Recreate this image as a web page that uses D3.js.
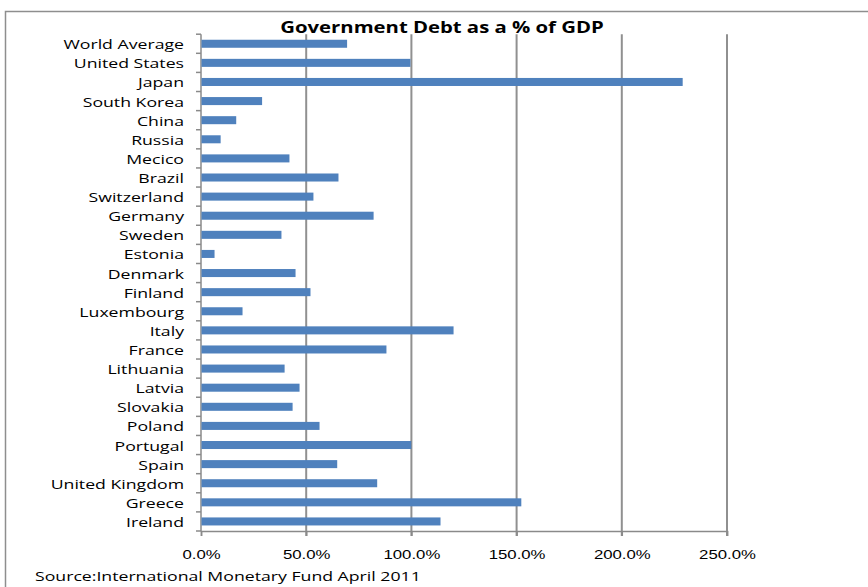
<!DOCTYPE html>
<html>
<head>
<meta charset="utf-8">
<script src="https://cdn.jsdelivr.net/npm/d3@7"></script>
<style>
    body { margin: 0; background: #fff; }
    svg { display: block; font-family: "Open Sans", sans-serif; }
    .catLabel { font-size: 13.5px; fill: #000; }
    .tickLabel { font-size: 12.8px; fill: #000; }
    .title { font-size: 15.5px; font-weight: bold; fill: #000; }
    .source { font-size: 13.5px; fill: #000; }
</style>
</head>
<body>
<svg id="chart"></svg>
<script>
const countries = ['World Average', 'United States', 'Japan', 'South Korea', 'China', 'Russia',
    'Mecico', 'Brazil', 'Switzerland', 'Germany', 'Sweden', 'Estonia', 'Denmark', 'Finland',
    'Luxembourg', 'Italy', 'France', 'Lithuania', 'Latvia', 'Slovakia', 'Poland', 'Portugal',
    'Spain', 'United Kingdom', 'Greece', 'Ireland'];
const debtPct = [69.2, 99.3, 228.7, 28.8, 16.5, 9.1,
    41.8, 65.1, 53.2, 81.8, 38.0, 6.2, 44.7, 51.8,
    19.5, 119.8, 87.9, 39.5, 46.6, 43.3, 56.1, 99.7,
    64.5, 83.5, 152.0, 113.6];
const xTicks = [0, 50, 100, 150, 200, 250];
const chartTitle = 'Government Debt as a % of GDP';
const sourceNote = 'Source:International Monetary Fund April 2011';

const width = 868, height = 587;
const margin = { top: 34.2, left: 201, right: 141, bottom: 56 };
const innerW = width - margin.left - margin.right;
const innerH = height - margin.top - margin.bottom;

// the original picture is stretched sideways, so text is widened the same way
const stretch = 1.31;
const place = (x, y) => `translate(${x},${y}) scale(${stretch},1)`;

const svg = d3.select('#chart')
    .attr('width', width)
    .attr('height', height);

// outer frame (only top and left edges show)
svg.append('path')
    .attr('d', `M5.5,${height + 2} V11.5 H${width + 2}`)
    .attr('fill', 'none')
    .attr('stroke', '#8e8e8e')
    .attr('stroke-width', 1.5);

const chart = svg.append('g')
    .attr('transform', `translate(${margin.left},${margin.top})`);

const xScale = d3.scaleLinear()
    .domain([0, 250])
    .range([0, innerW]);

const yScale = d3.scaleBand()
    .domain(countries)
    .range([0, innerH])
    .paddingInner(0.58)
    .paddingOuter(0.29);

// gridlines
chart.append('g')
    .selectAll('line')
    .data(xTicks.slice(1))
    .join('line')
    .attr('x1', d => xScale(d))
    .attr('x2', d => xScale(d))
    .attr('y1', 0)
    .attr('y2', innerH + 5)
    .attr('stroke', '#909090')
    .attr('stroke-width', 2);

// x axis
const xAxis = d3.axisBottom(xScale)
    .tickValues(xTicks)
    .tickSize(5)
    .tickFormat(d => d3.format('.1f')(d) + '%');

const xAxisG = chart.append('g')
    .attr('transform', `translate(0,${innerH})`)
    .call(xAxis);
xAxisG.select('.domain').attr('stroke', '#8a8a8a').attr('stroke-width', 1.5);
xAxisG.selectAll('.tick line').attr('stroke', '#8a8a8a').attr('stroke-width', 1.5);
xAxisG.selectAll('.tick text')
    .attr('class', 'tickLabel')
    .attr('font-family', null)
    .attr('font-size', null)
    .attr('y', 0)
    .attr('dy', null)
    .attr('transform', place(0, 28));

// y axis: ticks sit on category boundaries
const boundaries = d3.range(countries.length + 1).map(i => i * yScale.step());
chart.append('line')
    .attr('x1', 0).attr('x2', 0)
    .attr('y1', 0).attr('y2', innerH)
    .attr('stroke', '#8a8a8a')
    .attr('stroke-width', 1.5);
chart.append('g')
    .selectAll('line')
    .data(boundaries)
    .join('line')
    .attr('x1', -5).attr('x2', 0)
    .attr('y1', d => d).attr('y2', d => d)
    .attr('stroke', '#8a8a8a')
    .attr('stroke-width', 1.5);

chart.append('g')
    .selectAll('text')
    .data(countries)
    .join('text')
    .attr('class', 'catLabel')
    .attr('transform', d => place(-17, yScale(d) + yScale.bandwidth() / 2 + 5.5))
    .attr('text-anchor', 'end')
    .text(d => d);

// bars
chart.append('g')
    .selectAll('rect')
    .data(countries)
    .join('rect')
    .attr('x', 0.5)
    .attr('y', d => yScale(d))
    .attr('width', (d, i) => xScale(debtPct[i]))
    .attr('height', yScale.bandwidth())
    .attr('fill', '#4f81bd');

svg.append('text')
    .attr('class', 'title')
    .attr('transform', place(442, 33))
    .attr('text-anchor', 'middle')
    .text(chartTitle);

svg.append('text')
    .attr('class', 'source')
    .attr('transform', place(35, 581))
    .text(sourceNote);
</script>
</body>
</html>
